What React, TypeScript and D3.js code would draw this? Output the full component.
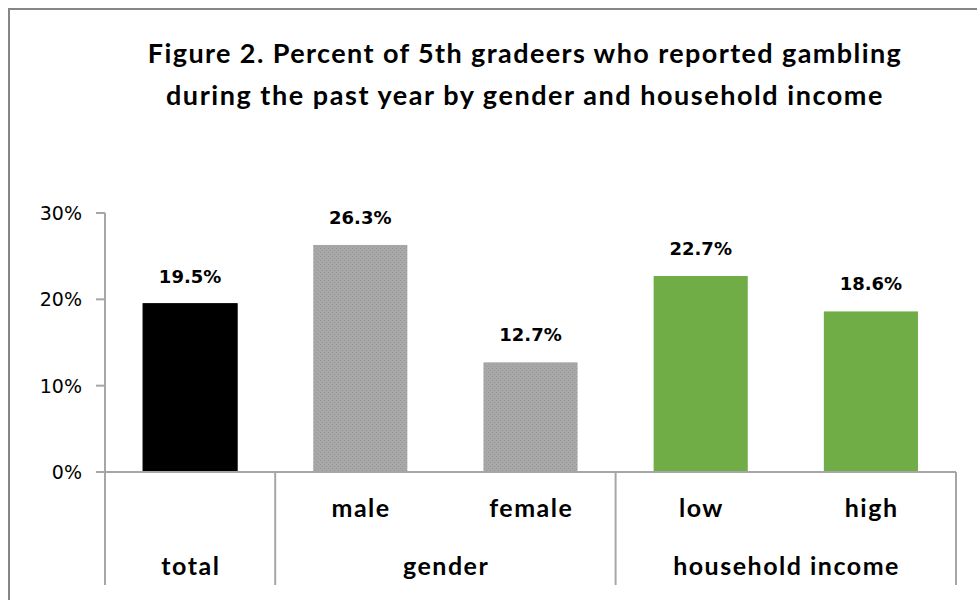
import React from "react";
import * as d3 from "d3";

const titleLines = [
  "Figure 2. Percent of 5th gradeers who reported gambling",
  "during the past year by gender and household income",
];
const barLabels = ["total", "male", "female", "low", "high"];
const barValues = [19.5, 26.3, 12.7, 22.7, 18.6];
const barGroups = ["total", "gender", "gender", "household income", "household income"];
const groupNames = ["total", "gender", "household income"];
const yTicks = [0, 10, 20, 30];
const barColors = ["#000000", "url(#grayDots)", "url(#grayDots)", "#70ad47", "#70ad47"];

const W = 977;
const H = 600;
const plotLeft = 105;
const plotRight = 956;
const plotTop = 213;
const plotBottom = 472;

export default function App() {
  const x = d3.scaleBand<number>().domain(d3.range(barValues.length)).range([plotLeft, plotRight]).paddingInner(0.447).paddingOuter(0.2235);
  const slot = (plotRight - plotLeft) / barValues.length;
  const y = d3.scaleLinear().domain([0, 30]).range([plotBottom, plotTop]);

  const groups = groupNames.map((g) => {
    const idx = barGroups.map((bg, i) => (bg === g ? i : -1)).filter((i) => i >= 0);
    const first = idx[0];
    const last = idx[idx.length - 1];
    return { name: g, x0: plotLeft + first * slot, x1: plotLeft + (last + 1) * slot };
  });
  const separators = [plotLeft, ...groups.map((g) => g.x1)];

  const catFont = { fontFamily: "Lato, sans-serif", fontWeight: "bold" as const, fontSize: 25, letterSpacing: 1.5 };

  return (
    <svg width={W} height={H} style={{ position: "absolute", left: 0, top: 0, display: "block" }}>
      <defs>
        <pattern id="grayDots" width="4" height="4" patternUnits="userSpaceOnUse">
          <rect width="4" height="4" fill="#a8a8a8" />
          <rect x="0" y="0" width="1" height="1" fill="#959595" />
          <rect x="2" y="2" width="1" height="1" fill="#959595" />
        </pattern>
      </defs>
      <rect x={0} y={0} width={W} height={H} fill="#ffffff" />
      <rect x={9} y={9} width={W + 20} height={H + 20} fill="none" stroke="#868686" strokeWidth={2} />

      {titleLines.map((t, i) => (
        <text
          key={i}
          x={525}
          y={63 + i * 42}
          textAnchor="middle"
          fontFamily="Lato, sans-serif"
          fontWeight="bold"
          fontSize={27}
          letterSpacing={i === 0 ? 1.4 : 1.55}
          fill="#000"
        >
          {t}
        </text>
      ))}

      {/* y axis */}
      <line x1={plotLeft} x2={plotLeft} y1={plotTop} y2={plotBottom} stroke="#a6a6a6" strokeWidth={2} />
      {yTicks.map((t) => (
        <g key={t}>
          <line x1={plotLeft - 9} x2={plotLeft} y1={y(t)} y2={y(t)} stroke="#a6a6a6" strokeWidth={2} />
          <text
            x={82}
            y={y(t)}
            dy="0.36em"
            textAnchor="end"
            fontFamily="'DejaVu Sans', sans-serif"
            fontSize={19}
            fill="#000"
          >
            {t}%
          </text>
        </g>
      ))}

      {/* bars */}
      {barValues.map((v, i) => (
        <g key={i}>
          <rect
            x={x(i)!}
            y={y(v)}
            width={x.bandwidth()}
            height={plotBottom - y(v)}
            fill={barColors[i]}
            stroke={i === 0 ? "#000" : "none"}
          />
          <text
            x={x(i)! + x.bandwidth() / 2}
            y={y(v) - 21}
            textAnchor="middle"
            fontFamily="'DejaVu Sans', sans-serif"
            fontWeight="bold"
            fontSize={18}
            fill="#000"
          >
            {v.toFixed(1)}%
          </text>
        </g>
      ))}

      {/* x axis */}
      <line x1={plotLeft - 9} x2={plotRight} y1={plotBottom} y2={plotBottom} stroke="#a6a6a6" strokeWidth={2} />
      {separators.map((s, i) => (
        <line key={i} x1={s} x2={s} y1={plotBottom} y2={585} stroke="#a6a6a6" strokeWidth={2} />
      ))}

      {barLabels.map((l, i) =>
        barGroups[i] === l ? null : (
          <text key={i} x={plotLeft + (i + 0.5) * slot + 0.75} y={517} textAnchor="middle" fill="#000" {...catFont}>
            {l}
          </text>
        )
      )}
      {groups.map((g) => (
        <text key={g.name} x={(g.x0 + g.x1) / 2 + 0.75} y={575} textAnchor="middle" fill="#000" {...catFont}>
          {g.name}
        </text>
      ))}
    </svg>
  );
}
